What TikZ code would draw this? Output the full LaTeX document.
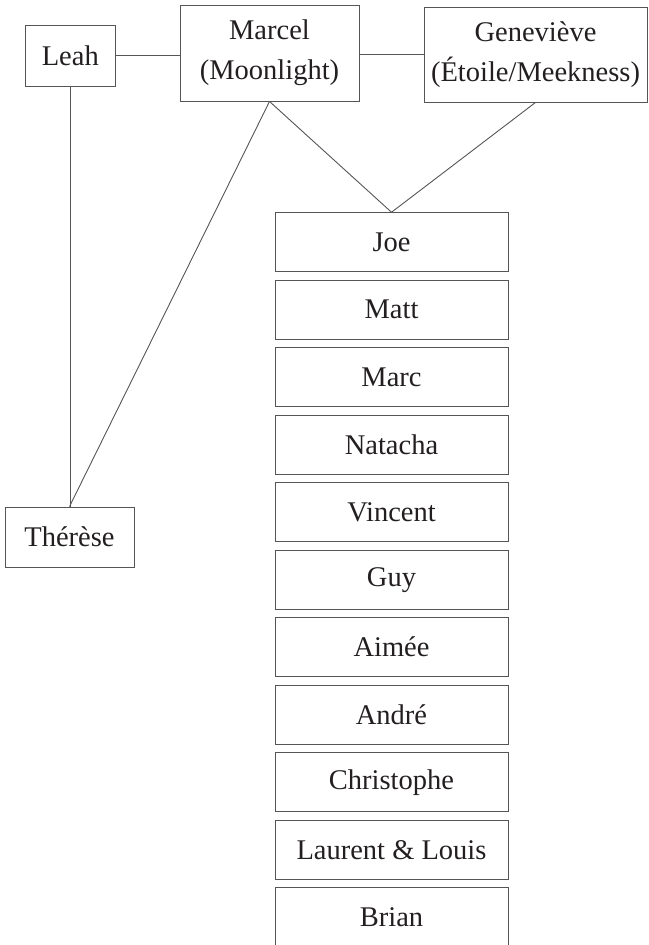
\documentclass[tikz,border=0pt]{standalone}
\usepackage{fontspec}
\setmainfont{Liberation Serif}
\begin{document}
\begin{tikzpicture}[x=1pt,y=-1pt,
  person/.style={draw=linegray, line width=0.9pt, inner sep=0pt, text=textdark,
    font=\fontsize{28.5}{40}\selectfont, align=center},
  kid/.style={person, minimum width=233pt, minimum height=59pt},
  link/.style={draw=linegray, line width=0.9pt}]
\definecolor{linegray}{HTML}{555555}
\definecolor{textdark}{HTML}{231F20}
\useasboundingbox (0,0) rectangle (648,945);
\node[person, minimum width=89.5pt, minimum height=61pt] (leah) at (70.3,55.5) {Leah};
\node[person, minimum width=179pt, minimum height=96pt] (marcel) at (269.5,53) {Marcel\\(Moonlight)};
\node[person, minimum width=223pt, minimum height=95pt] (genevieve) at (535.5,54.5) {Geneviève\\(Étoile/Meekness)};
\node[person, minimum width=129pt, minimum height=60pt] (therese) at (69.5,537) {Thérèse};
\node[kid] (joe) at (391.5,242.2) {Joe};
\node[kid] (matt) at (391.5,309.7) {Matt};
\node[kid] (marc) at (391.5,377.2) {Marc};
\node[kid] (natacha) at (391.5,444.7) {Natacha};
\node[kid] (vincent) at (391.5,512.2) {Vincent};
\node[kid] (guy) at (391.5,579.7) {Guy};
\node[kid] (aimee) at (391.5,647.2) {Aimée};
\node[kid] (andre) at (391.5,714.7) {André};
\node[kid] (christophe) at (391.5,782.2) {Christophe};
\node[kid] (laurent) at (391.5,849.7) {Laurent \& Louis};
\node[kid] (brian) at (391.5,917.2) {Brian};
\draw[link] (leah.east) -- (leah.east -| marcel.west);
\draw[link] (genevieve.west -| marcel.east) -- (genevieve.west);
\draw[link] (leah.south) -- (leah.south |- therese.north);
\draw[link] (marcel.south) -- (therese.north);
\draw[link] (marcel.south) -- (joe.north);
\draw[link] (genevieve.south) -- (joe.north);
\end{tikzpicture}
\end{document}
